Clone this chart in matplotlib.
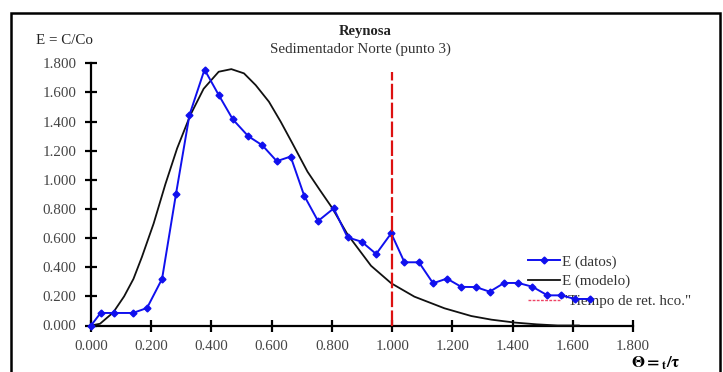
import matplotlib
matplotlib.use("Agg")
import matplotlib.pyplot as plt
from matplotlib.patches import Rectangle

# Data: E (datos)
theta_datos = [0.000, 0.032, 0.077, 0.139, 0.186, 0.236, 0.282, 0.327, 0.377, 0.424,
               0.471, 0.522, 0.569, 0.617, 0.663, 0.708, 0.754, 0.806, 0.852, 0.899,
               0.947, 0.997, 1.041, 1.089, 1.136, 1.182, 1.230, 1.278, 1.324, 1.372,
               1.419, 1.466, 1.516, 1.561, 1.608, 1.658]
e_datos = [0.000, 0.086, 0.086, 0.086, 0.120, 0.320, 0.900, 1.445, 1.757, 1.583,
           1.415, 1.300, 1.237, 1.128, 1.160, 0.891, 0.717, 0.804, 0.605, 0.575,
           0.491, 0.633, 0.434, 0.434, 0.290, 0.322, 0.265, 0.264, 0.232, 0.292,
           0.292, 0.266, 0.207, 0.207, 0.182, 0.182]

# Data: E (modelo)
theta_modelo = [0.000, 0.030, 0.074, 0.110, 0.141, 0.169, 0.208, 0.247, 0.286, 0.330,
                0.374, 0.424, 0.466, 0.508, 0.547, 0.591, 0.630, 0.669, 0.719, 0.760,
                0.800, 0.852, 0.930, 0.997, 1.074, 1.174, 1.263, 1.330, 1.408, 1.480,
                1.550, 1.620]
e_modelo = [0.000, 0.012, 0.090, 0.200, 0.320, 0.470, 0.700, 0.970, 1.216, 1.445,
            1.625, 1.742, 1.760, 1.731, 1.650, 1.536, 1.399, 1.250, 1.056, 0.930,
            0.810, 0.625, 0.410, 0.290, 0.198, 0.118, 0.065, 0.040, 0.020, 0.008,
            0.000, 0.000]

# Tiempo de retencion hidraulico
t_ret = 1.0
t_ret_top = 1.74

xticks = [0.0, 0.2, 0.4, 0.6, 0.8, 1.0, 1.2, 1.4, 1.6, 1.8]
yticks = [0.0, 0.2, 0.4, 0.6, 0.8, 1.0, 1.2, 1.4, 1.6, 1.8]

W, H = 723, 372
plt.rcParams['font.family'] = ['Liberation Serif', 'DejaVu Serif']
plt.rcParams['mathtext.fontset'] = 'stix'

fig = plt.figure(figsize=(W / 100, H / 100), dpi=100)
fig.patch.set_facecolor('white')

# outer frame
fig.add_artist(Rectangle((11 / W, -0.05), (720 - 11) / W, (H - 13) / H + 0.05,
                         transform=fig.transFigure, fill=False, lw=1.8,
                         edgecolor='black'))

ax = fig.add_axes([91 / W, 46.5 / H, (633 - 91) / W, (325.5 - 63.3) / H])
ax.set_xlim(0, 1.8)
ax.set_ylim(0, 1.8)
for s in ['top', 'right']:
    ax.spines[s].set_visible(False)
for s in ['left', 'bottom']:
    ax.spines[s].set_linewidth(1.6)

ax.set_xticks(xticks)
ax.set_yticks(yticks)
ax.set_xticklabels([f"{v:.3f}" for v in xticks])
ax.set_yticklabels([f"{v:.3f}" for v in yticks])
ax.tick_params(direction='inout', length=9, width=1.6, labelsize=10.8,
               labelcolor='#444444')
ax.tick_params(axis='x', pad=6)
ax.tick_params(axis='y', pad=6)

ax.plot(theta_modelo, e_modelo, color='#111111', lw=1.3, label='E (modelo)',
        clip_on=False, zorder=3)
ax.plot(theta_datos, e_datos, color='#1010ee', lw=1.4, marker='D', ms=3.5,
        label='E (datos)', clip_on=False, zorder=4)
ax.plot([t_ret, t_ret], [0, t_ret_top], color='#dd1111', lw=1.6,
        linestyle=(0, (7, 1.5)), label='"Tiempo de ret. hco."', zorder=5)

handles, labels = ax.get_legend_handles_labels()
order = [1, 0, 2]
leg = ax.legend([handles[i] for i in order], [labels[i] for i in order],
                loc='upper left', bbox_to_anchor=(528 / W, 1 - 255 / H),
                bbox_transform=fig.transFigure, frameon=False, fontsize=10.8,
                handlelength=2.1, handletextpad=0.15, labelspacing=0.4,
                borderpad=0, borderaxespad=0)
for t in leg.get_texts():
    t.set_color('#333333')
leg.get_lines()[2].set_color('#ee4466')
leg.get_lines()[2].set_linestyle((0, (2, 1)))
leg.get_lines()[2].set_linewidth(1.0)
leg.set_zorder(2)

fig.text(36 / W, 1 - 40 / H, 'E = C/Co', fontsize=10.8, va='center', ha='left',
         color='#222222')
fig.text(365 / W, 1 - 31 / H, 'Reynosa', fontsize=10.5, fontweight='bold',
         va='center', ha='center', color='#222222')
fig.text(360 / W, 1 - 49 / H, 'Sedimentador Norte (punto 3)', fontsize=10.8,
         va='center', ha='center', color='#333333')
fig.text(656 / W, 1 - 363 / H, r'$\mathbf{\Theta =}_{\mathbf{t}}\mathbf{/\tau}$',
         fontsize=12, va='center', ha='center')

fig.savefig('out.png', dpi=100, facecolor='white')
